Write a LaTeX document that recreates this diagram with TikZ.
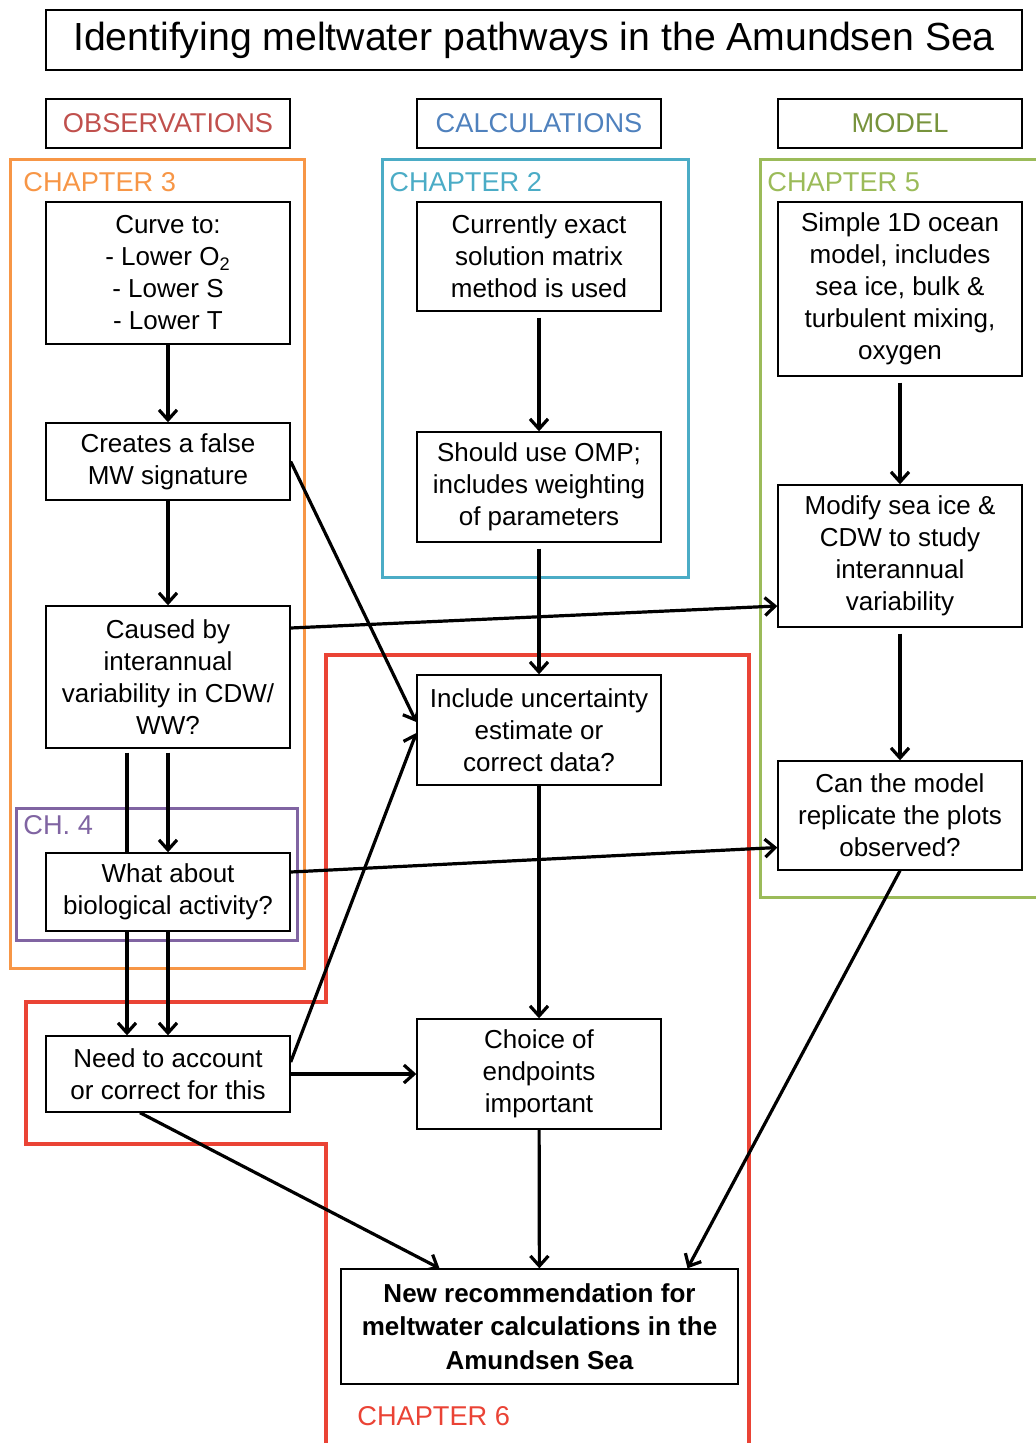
\documentclass[tikz,border=0pt]{standalone}
\usepackage{fontspec}
\setmainfont{Liberation Sans}
\usetikzlibrary{positioning,arrows.meta}

\definecolor{obsred}{HTML}{C0504D}
\definecolor{calcblue}{HTML}{4F81BD}
\definecolor{modgreen}{HTML}{77933C}
\definecolor{chorange}{HTML}{F79646}
\definecolor{chcyan}{HTML}{4BACC6}
\definecolor{chgreen}{HTML}{9BBB59}
\definecolor{chpurple}{HTML}{8064A2}
\definecolor{chred}{HTML}{EA4335}

\newcommand{\boxfont}{\fontsize{13}{16}\selectfont}
\newcommand{\headfont}{\fontsize{13.6}{16}\selectfont}

\pgfdeclarelayer{frames}
\pgfdeclarelayer{links}
\pgfsetlayers{frames,links,main}

\begin{document}
\begin{tikzpicture}[
    x=0.5pt, y=-0.5pt,
    box/.style={draw, line width=0.7pt, fill=white, align=center, inner sep=0pt, minimum width=122pt, font=\boxfont},
    head/.style={draw, line width=0.7pt, align=center, minimum width=122pt, minimum height=24.5pt, font=\headfont},
    chap/.style={anchor=base west, inner sep=0pt, font=\headfont},
    frame/.style={line width=1.5pt},
    arr/.style={-{Straight Barb[length=5pt, width=9pt]}, line width=1.6pt}
]
\useasboundingbox (0,0) rectangle (1035,1443);

% title and column heads
\node[draw, line width=0.7pt, minimum width=488pt, minimum height=30pt, font=\fontsize{19.6}{23}\selectfont] (title) at (534,40) {\raisebox{-1pt}{Identifying meltwater pathways in the Amundsen Sea}};
\node[head, text=obsred] (obs) at (168,123.5) {OBSERVATIONS};
\node[head, text=calcblue] (calc) at (539,123.5) {CALCULATIONS};
\node[head, text=modgreen] (model) at (900,123.5) {MODEL};

% observations column
\node[box, minimum height=71pt] (curve) at (168,273) {Curve to:\\- Lower O\textsubscript{2}\\- Lower S\\- Lower T};
\node[box, minimum height=38.5pt] (false) at (168,461.5) {Creates a false\\MW signature};
\node[box, minimum height=71pt] (cdw) at (168,677) {Caused by\\interannual\\variability in CDW/\\WW?};
\node[box, minimum height=39pt] (bio) at (168,892) {What about\\biological activity?};
\node[box, minimum height=38pt] (account) at (168,1074) {Need to account\\or correct for this};

% calculations column
\node[box, minimum height=54.5pt] (exact) at (539,256.5) {Currently exact\\solution matrix\\method is used};
\node[box, minimum height=55pt] (omp) at (539,487) {Should use OMP;\\includes weighting\\of parameters};
\node[box, minimum height=55pt] (uncert) at (539,730) {Include uncertainty\\estimate or\\correct data?};
\node[box, minimum height=55pt] (endpts) at (539,1074) {Choice of\\endpoints\\important};
\node[box, minimum width=198.5pt, minimum height=57.5pt, font=\bfseries\fontsize{13}{16.75}\selectfont] (recom) at (539.5,1326.5) {New recommendation for\\meltwater calculations in the\\Amundsen Sea};

% model column
\node[box, minimum height=87pt] (ocean) at (900,289) {Simple 1D ocean\\model, includes\\sea ice, bulk \&\\turbulent mixing,\\oxygen};
\node[box, minimum height=71pt] (seaice) at (900,556) {Modify sea ice \&\\CDW to study\\interannual\\variability};
\node[box, minimum height=54.5pt] (replic) at (900,815.5) {Can the model\\replicate the plots\\observed?};

% chapter labels
\node[chap, text=chorange] (ch3) at (23,192) {CHAPTER 3};
\node[chap, text=chcyan] (ch2) at (389,192) {CHAPTER 2};
\node[chap, text=chgreen] (ch5) at (767,192) {CHAPTER 5};
\node[chap, text=chpurple] (ch4) at (23,834) {CH. 4};
\node[chap, text=chred] (ch6) at (357,1425) {CHAPTER 6};

% chapter frames
\begin{pgfonlayer}{frames}
\draw[frame, chorange] (10,160) rectangle (304,968);
\draw[frame, chcyan] (382,160) rectangle (688,577);
\draw[frame, chgreen] (760,160) rectangle (1050,897);
\draw[frame, chpurple] (16,808) rectangle (297,940);
\draw[frame, chred, line width=1.8pt] (326,1460) -- (326,1144) -- (26,1144) -- (26,1002) -- (326,1002) -- (326,655) -- (749,655) -- (749,1460);
\end{pgfonlayer}

% connectors
\begin{pgfonlayer}{links}
\draw[arr] (curve) -- (false);
\draw[arr] (false) -- (cdw);
\draw[arr, shorten <=2pt] (cdw) -- (bio);
\draw[arr, shorten <=2pt] ([xshift=-20.5pt]cdw.south) -- ([xshift=-20.5pt]account.north);
\draw[arr] (bio) -- (account);
\draw[arr] (false.east) -- ([yshift=4pt]uncert.west);
\draw[arr] ([yshift=6pt]account.east) -- ([yshift=-1.5pt]uncert.west);
\draw[arr] (account) -- (endpts);
\draw[arr] ([yshift=24.5pt]cdw.east) -- ([yshift=-25pt]seaice.west);
\draw[arr] ([yshift=10pt]bio.east) -- ([yshift=-16pt]replic.west);
\draw[arr, shorten <=3pt] (exact) -- (omp);
\draw[arr, shorten <=3pt] (omp) -- (uncert);
\draw[arr] (uncert) -- (endpts);
\draw[arr] (endpts) -- (recom);
\draw[arr] ([xshift=-14pt]account.south) -- ([xshift=-50pt]recom.north);
\draw[arr] (replic.south) -- ([xshift=74pt]recom.north);
\draw[arr, shorten <=3pt] (ocean) -- (seaice);
\draw[arr, shorten <=3pt] (seaice) -- (replic);
\end{pgfonlayer}

\end{tikzpicture}
\end{document}
